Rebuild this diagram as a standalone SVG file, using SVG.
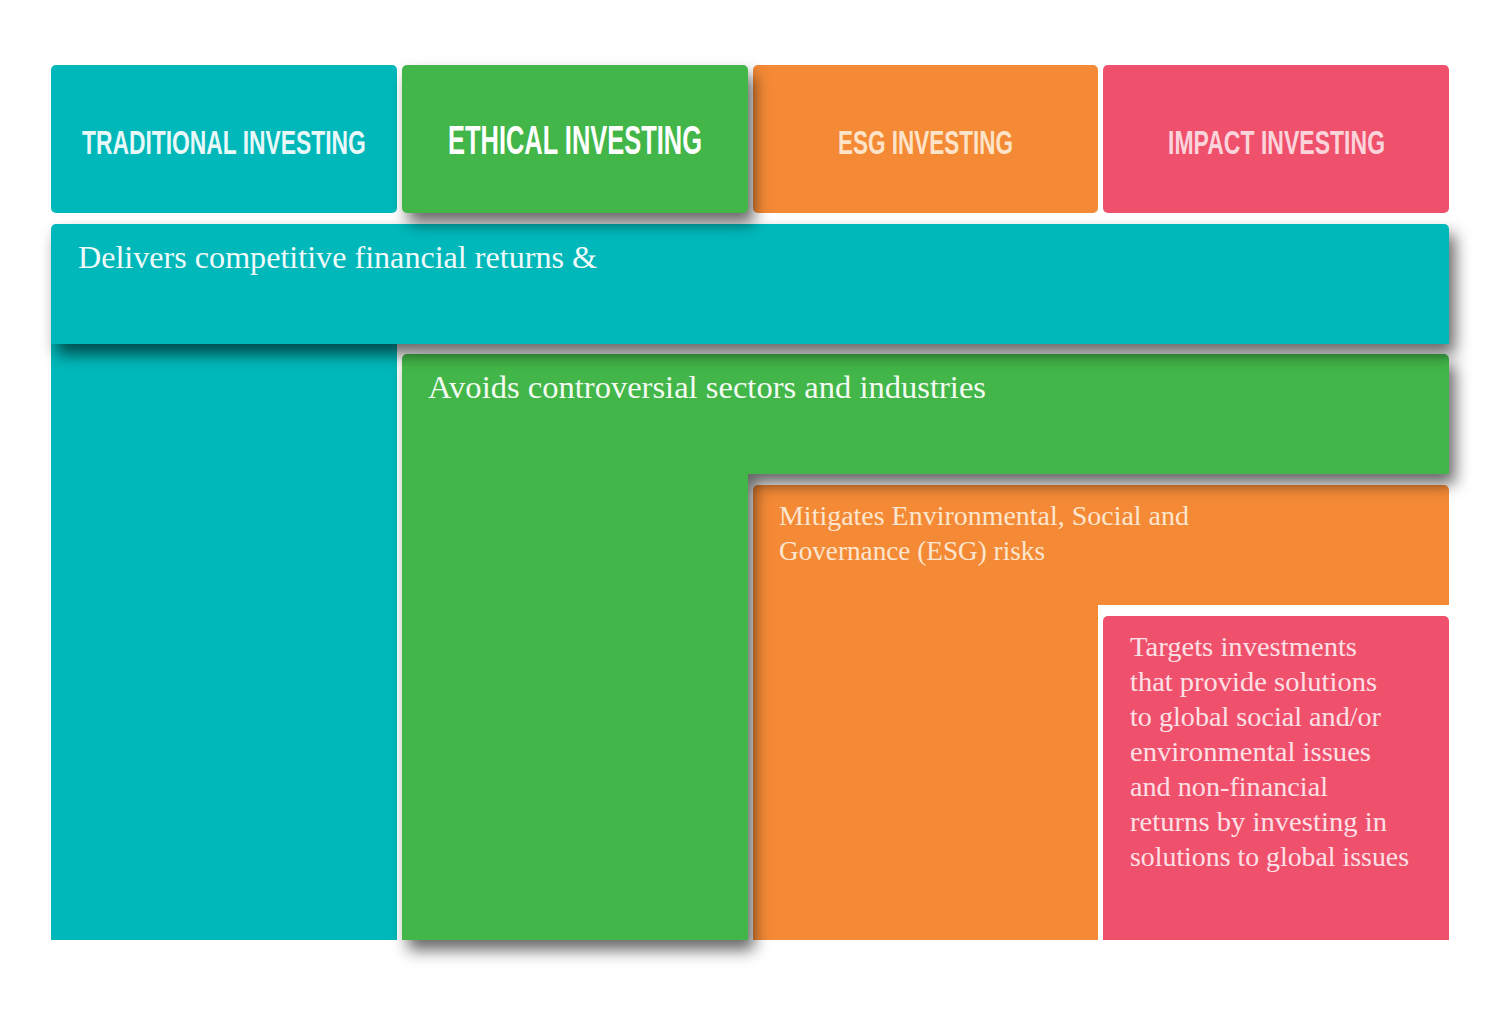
<svg xmlns="http://www.w3.org/2000/svg" width="1500" height="1026" viewBox="0 0 1500 1026">
<defs>
<filter id="sh" x="-10%" y="-20%" width="125%" height="150%" color-interpolation-filters="sRGB">
<feGaussianBlur in="SourceAlpha" stdDeviation="8"/>
<feOffset dx="6" dy="10" result="b"/>
<feFlood flood-color="#000" flood-opacity="0.6"/>
<feComposite in2="b" operator="in"/>
<feMerge><feMergeNode/><feMergeNode in="SourceGraphic"/></feMerge>
</filter>
<style>
.teal{fill:#00B8BA}
.green{fill:#42B649}
.orange{fill:#F48A36}
.pink{fill:#EF516D}
.hd{font-family:"Liberation Sans",Arial,sans-serif;font-weight:bold;text-anchor:start}
.bd{font-family:"Liberation Serif","Times New Roman",serif}
</style>
</defs>
<rect width="1500" height="1026" fill="#fff"/>

<g id="impact-body">
<path class="pink" d="M1103,621 a5,5 0 0 1 5,-5 H1444 a5,5 0 0 1 5,5 V940 H1103 Z"/>
<text class="bd" font-size="27" fill="#FDE0E5">
<tspan x="1130" y="656" textLength="227" lengthAdjust="spacingAndGlyphs">Targets investments</tspan>
<tspan x="1130" y="691" textLength="247" lengthAdjust="spacingAndGlyphs">that provide solutions</tspan>
<tspan x="1130" y="726" textLength="251" lengthAdjust="spacingAndGlyphs">to global social and/or</tspan>
<tspan x="1130" y="761" textLength="241" lengthAdjust="spacingAndGlyphs">environmental issues</tspan>
<tspan x="1130" y="796" textLength="198" lengthAdjust="spacingAndGlyphs">and non-financial</tspan>
<tspan x="1130" y="831" textLength="257" lengthAdjust="spacingAndGlyphs">returns by investing in</tspan>
<tspan x="1130" y="866" textLength="279" lengthAdjust="spacingAndGlyphs">solutions to global issues</tspan>
</text>
</g>

<g id="esg-body">
<path class="orange" d="M753,490 a5,5 0 0 1 5,-5 H1444 a5,5 0 0 1 5,5 V605 H1098 V940 H753 Z"/>
<text class="bd" font-size="27" fill="#FDE6CF">
<tspan x="779" y="525" textLength="410" lengthAdjust="spacingAndGlyphs">Mitigates Environmental, Social and</tspan>
<tspan x="779" y="560" textLength="266" lengthAdjust="spacingAndGlyphs">Governance (ESG) risks</tspan>
</text>
</g>

<g id="traditional-column">
<rect class="teal" x="51" y="338" width="346" height="602"/>
</g>

<g id="ethical-body">
<path class="green" filter="url(#sh)" d="M402,359 a5,5 0 0 1 5,-5 H1444 a5,5 0 0 1 5,5 V474 H748 V940 H402 Z"/>
<text class="bd" x="428" y="398" font-size="32" fill="#F4FBF2" textLength="558" lengthAdjust="spacingAndGlyphs">Avoids controversial sectors and industries</text>
</g>

<g id="traditional-body">
<path class="teal" filter="url(#sh)" d="M51,229 a5,5 0 0 1 5,-5 H1444 a5,5 0 0 1 5,5 V344 H51 Z"/>
<text class="bd" x="78" y="268" font-size="32" fill="#F0FAFA" textLength="519" lengthAdjust="spacingAndGlyphs">Delivers competitive financial returns &amp;</text>
</g>

<g id="header-traditional">
<rect class="teal" x="51" y="65" width="346" height="148" rx="5"/>
<text class="hd" transform="translate(82,154) scale(0.671,1)" font-size="34" fill="#E8F8F8" textLength="423" lengthAdjust="spacingAndGlyphs">TRADITIONAL INVESTING</text>
</g>

<g id="header-esg">
<rect class="orange" x="753" y="65" width="345" height="148" rx="5"/>
<text class="hd" transform="translate(838,154) scale(0.662,1)" font-size="34" fill="#FDE3C8" textLength="264.5" lengthAdjust="spacingAndGlyphs">ESG INVESTING</text>
</g>

<g id="header-impact">
<rect class="pink" x="1103" y="65" width="346" height="148" rx="5"/>
<text class="hd" transform="translate(1168,154) scale(0.672,1)" font-size="34" fill="#FBD4DB" textLength="323" lengthAdjust="spacingAndGlyphs">IMPACT INVESTING</text>
</g>

<g id="header-ethical">
<rect class="green" x="402" y="65" width="346" height="148" rx="5" filter="url(#sh)"/>
<text class="hd" transform="translate(448,154) scale(0.635,1)" font-size="40" fill="#FFFFFF" textLength="400" lengthAdjust="spacingAndGlyphs">ETHICAL INVESTING</text>
</g>

<g id="connectors"></g>
</svg>
